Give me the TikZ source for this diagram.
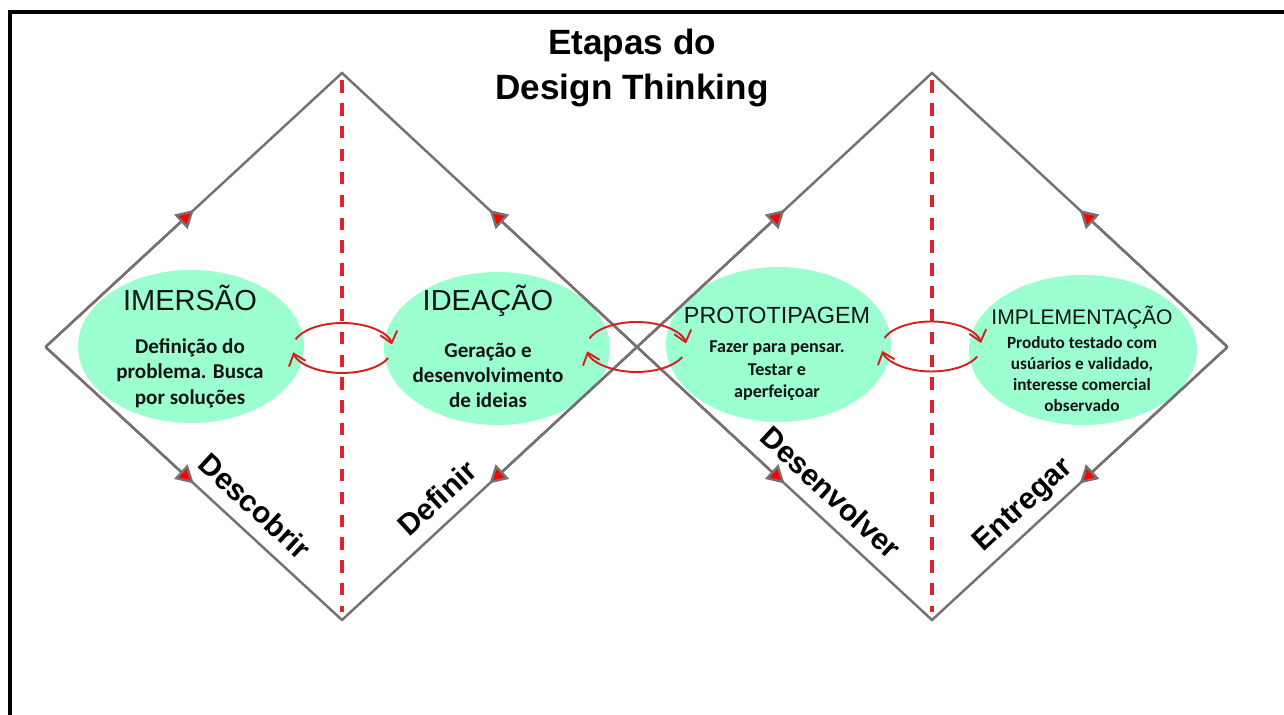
\documentclass[tikz,border=0pt]{standalone}
\usepackage{fontspec}
\setmainfont{Liberation Sans}
\newfontfamily\calibrifont{Carlito}
\usepackage{xcolor}
\usetikzlibrary{positioning, arrows.meta, shapes.geometric, calc}

\definecolor{mint}{RGB}{155,255,208}
\definecolor{sidegray}{RGB}{120,112,112}
\definecolor{dashred}{RGB}{226,34,42}
\definecolor{swapred}{RGB}{214,32,32}

\begin{document}
\begin{tikzpicture}[
    >=Stealth,
    side/.style={draw=sidegray, line width=1.4pt},
    tipside/.style={side, -{Triangle[length=10pt, width=11pt, fill=red]}},
    midline/.style={draw=dashred, line width=2pt, dash pattern=on 7pt off 6pt},
    stage/.style={ellipse, fill=mint, inner sep=0pt},
    stagetxt/.style={align=center, inner sep=0pt, text=black!92},
    phase/.style={font=\fontsize{17}{19}\selectfont\bfseries, sloped, above=5pt,
        text depth=0.25em, inner sep=0pt},
    cycarr/.style={draw=swapred, line width=1.1pt, -{Straight Barb[length=6pt, width=10pt]}},
]

\useasboundingbox (0,0) rectangle (25.68,14.3);

% Frame
\draw[line width=1.8pt] (25.68,14.06) -| (0.2,0);

% Title
\node[font=\fontsize{20}{26}\selectfont\bfseries, align=center] (title) at (12.64,12.94)
    {Etapas do\\Design Thinking};

% Diamond corners
\coordinate (d1l) at (0.91,7.36);
\coordinate (d1t) at (6.84,12.84);
\coordinate (d1b) at (6.84,1.9);
\coordinate (d1r) at (12.74,7.36);
\coordinate (d2l) at (d1r);
\coordinate (d2t) at (18.64,12.84);
\coordinate (d2b) at (18.64,1.9);
\coordinate (d2r) at (24.55,7.36);

% Stages
\node[stage, minimum width=4.52cm, minimum height=3.06cm] (imersao) at (3.82,7.37) {};
\node[stage, minimum width=4.52cm, minimum height=3.06cm] (ideacao) at (9.94,7.33) {};
\node[stage, minimum width=4.5cm, minimum height=3.1cm] (prototipo) at (15.57,7.41) {};
\node[stage, minimum width=4.56cm, minimum height=3.0cm] (implementa) at (21.66,7.3) {};

\node[stagetxt, font=\calibrifont\bfseries\fontsize{12}{14.5}\selectfont] (imersao-txt) at (3.8,7.37)
    {{\rmfamily\mdseries\fontsize{16.5}{18}\selectfont IMERSÃO}\\[9.5pt]
     Definição do\\problema. Busca\\por soluções};
\node[stagetxt, font=\calibrifont\bfseries\fontsize{12}{14.2}\selectfont] (ideacao-txt) at (9.76,7.38)
    {{\rmfamily\mdseries\fontsize{16.5}{18}\selectfont IDEAÇÃO}\\[12.5pt]
     Geração e\\desenvolvimento\\de ideias};
\node[stagetxt, font=\calibrifont\bfseries\fontsize{10.3}{12.8}\selectfont] (prototipo-txt) at (15.54,7.22)
    {{\rmfamily\mdseries\fontsize{13.3}{15}\selectfont PROTOTIPAGEM}\\[3.7pt]
     Fazer para pensar.\\Testar e\\aperfeiçoar};
\node[stagetxt, font=\calibrifont\bfseries\fontsize{9.8}{12}\selectfont] (implementa-txt) at (21.64,7.12)
    {{\rmfamily\mdseries\fontsize{12}{14}\selectfont IMPLEMENTAÇÃO}\\[1.6pt]
     Produto testado com\\usúarios e validado,\\interesse comercial\\observado};

% Diamond sides with phase names
\draw[side] (d1l) -- (d1t) -- (d1r);
\draw[side] (d1l) -- node[phase, pos=0.65] {Descobrir} (d1b)
    -- node[phase, pos=0.38] {Definir} (d1r);
\draw[side] (d2l) -- (d2t) -- (d2r);
\draw[side] (d2l) -- node[phase, pos=0.6] {Desenvolver} (d2b)
    -- node[phase, pos=0.36] {Entregar} (d2r);

% Arrow heads half way along each side
\foreach \x in {1,2}
    \foreach \p/\q in {l/t, l/b, r/t, r/b}
        \draw[tipside] (d\x\p) -- ($(d\x\p)!0.5!(d\x\q)$);

% Dashed middle lines
\draw[midline] ($(d1t)+(0,-0.15)$) -- ($(d1b)+(0,0.15)$);
\draw[midline] ($(d2t)+(0,-0.15)$) -- ($(d2b)+(0,0.15)$);

% Swap loops between stages
\coordinate (swap1) at (6.85,7.34);
\coordinate (swap2) at (12.73,7.36);
\coordinate (swap3) at (18.63,7.37);
\foreach \s in {swap1,swap2,swap3} {
    \draw[cycarr] ($(\s)+(160:1 and 0.5)$) arc[start angle=160, end angle=8, x radius=1, y radius=0.5];
    \draw[cycarr] ($(\s)+(-24:1 and 0.5)$) arc[start angle=-24, end angle=-170, x radius=1, y radius=0.5];
}

\end{tikzpicture}
\end{document}
